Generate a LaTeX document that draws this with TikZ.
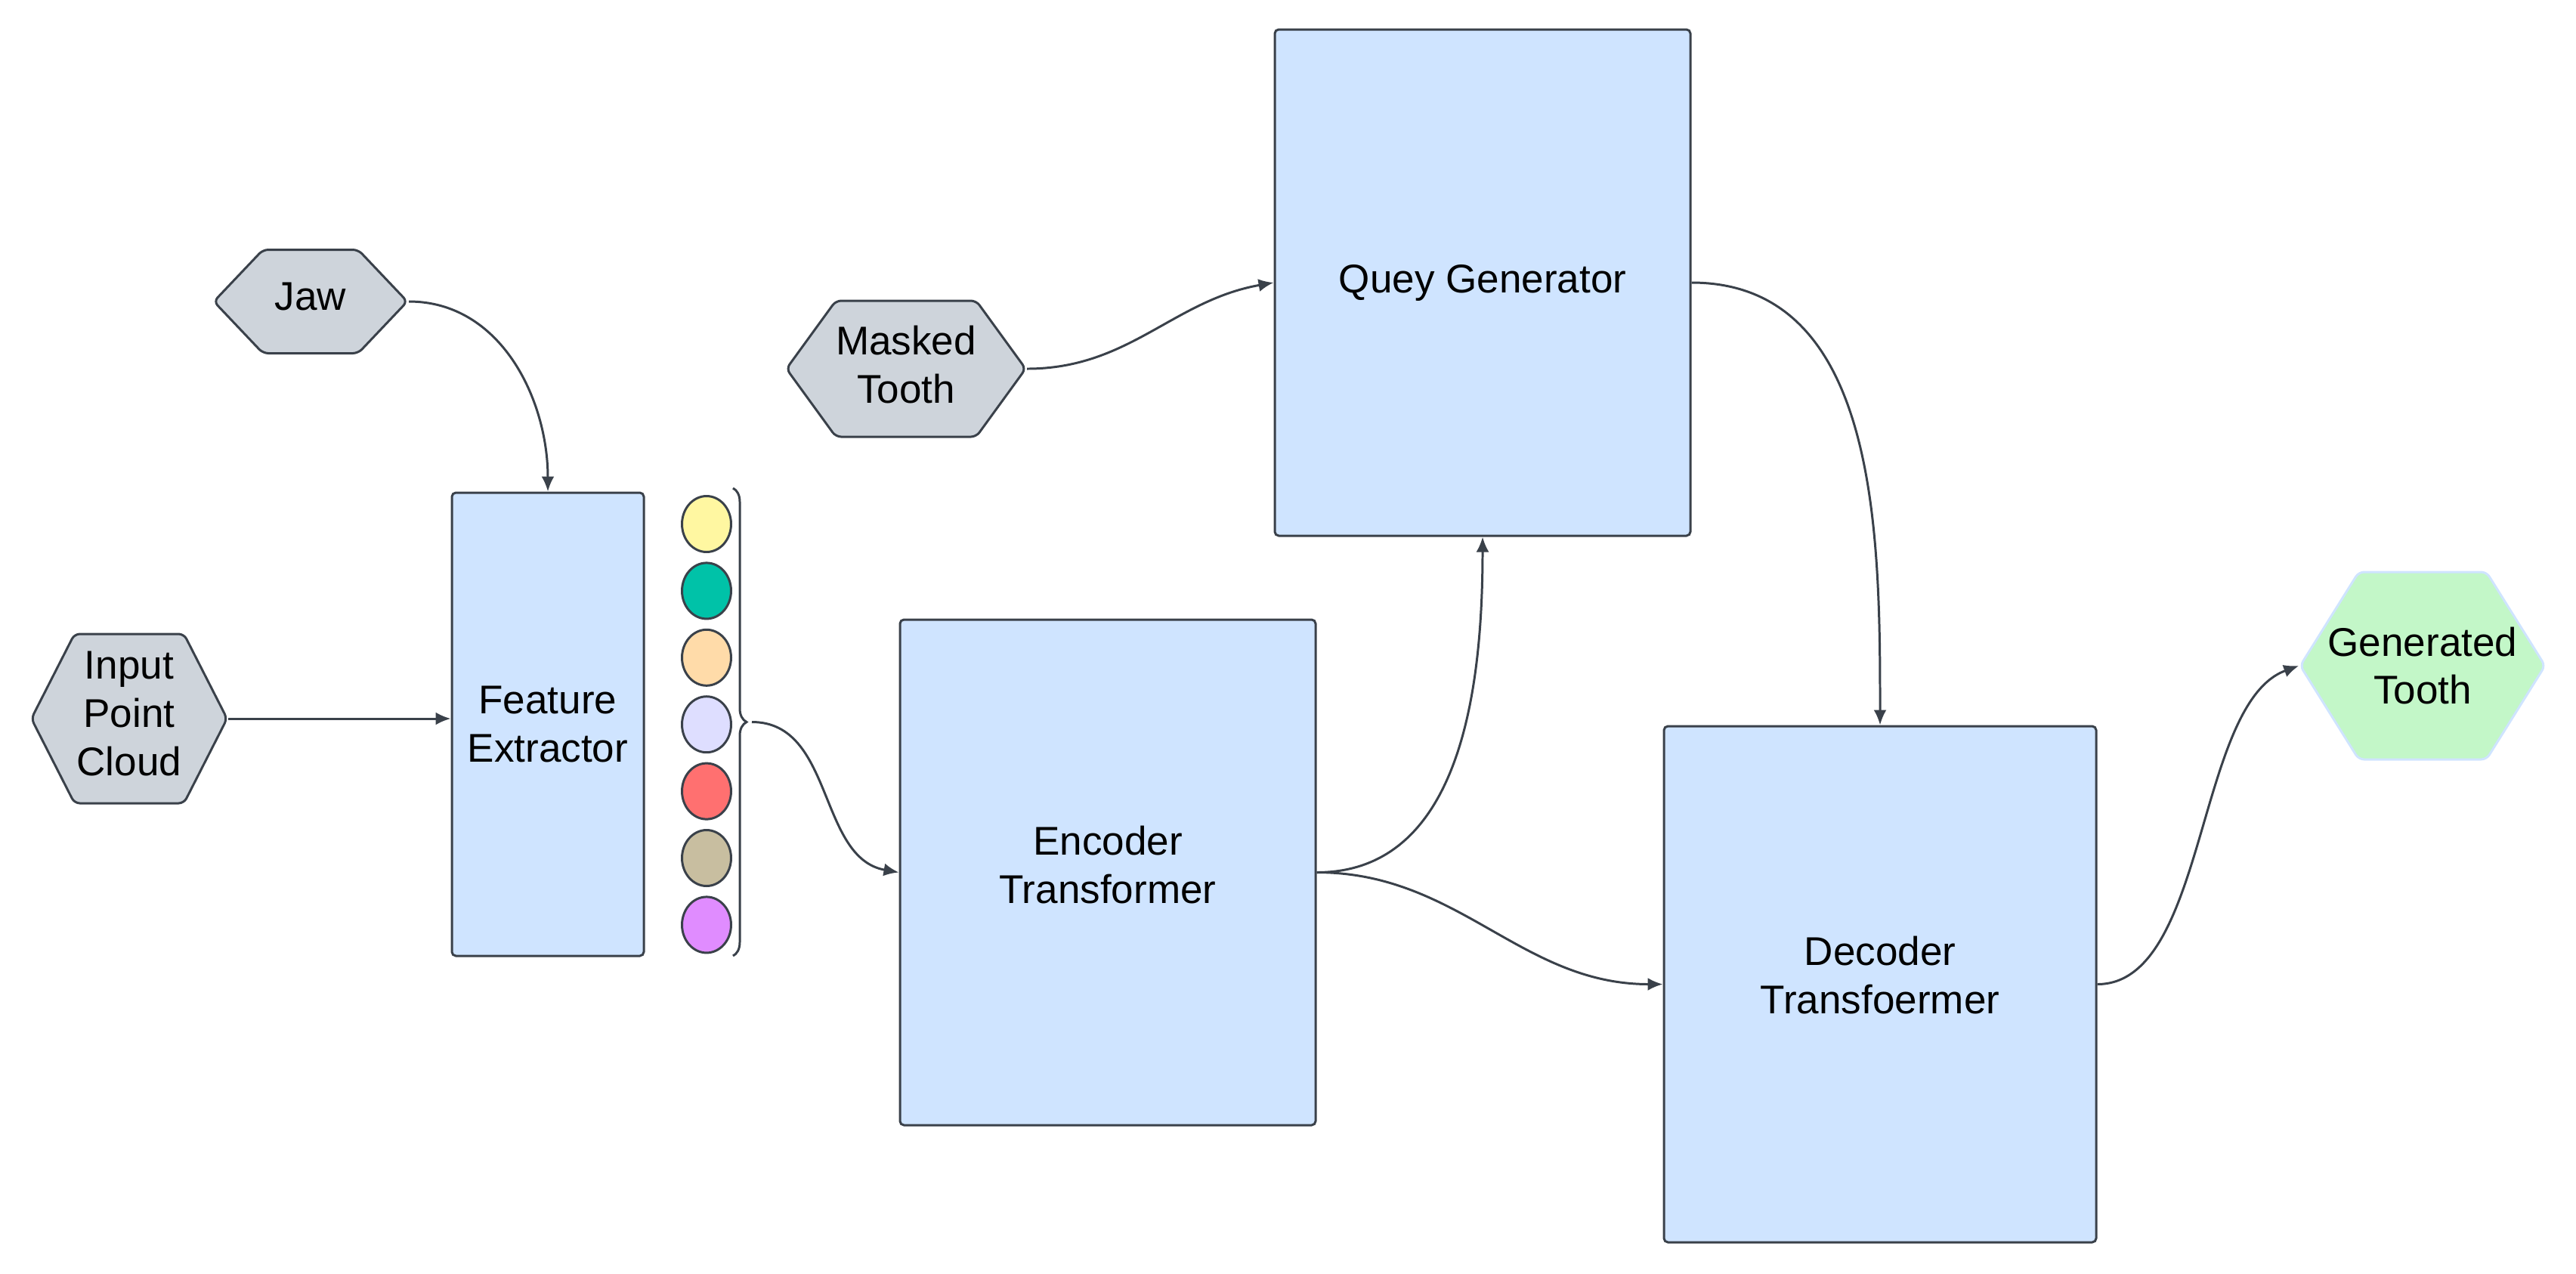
\documentclass[tikz,border=0pt]{standalone}
\usepackage{fontspec}
\setmainfont{Liberation Sans}
\usetikzlibrary{arrows.meta,positioning,shapes.geometric,shapes.symbols,decorations.pathreplacing}
\definecolor{edge}{RGB}{58,65,74}
\definecolor{boxfill}{RGB}{207,228,255}
\definecolor{hexfill}{RGB}{206,212,219}
\definecolor{genfill}{RGB}{195,247,200}
\definecolor{cyellow}{RGB}{255,247,161}
\definecolor{cteal}{RGB}{0,194,168}
\definecolor{cpeach}{RGB}{255,219,169}
\definecolor{clavender}{RGB}{222,222,255}
\definecolor{cred}{RGB}{255,112,112}
\definecolor{ctan}{RGB}{200,190,160}
\definecolor{cpurple}{RGB}{224,140,255}
\tikzset{
  flow/.style={-{Latex[length=2mm,width=1.7mm]},line width=0.85pt,draw=edge},
  block/.style={rounded corners=1.5pt,draw=edge,line width=0.85pt,fill=boxfill,
                align=center,inner sep=0pt,font=\fontsize{15.1}{18.2}\selectfont},
  hexa/.style={signal,signal to=west and east,signal pointer angle=#1,
               rounded corners=2pt,draw=edge,line width=0.85pt,fill=hexfill,
               align=center,inner sep=0pt,font=\fontsize{15.1}{18.2}\selectfont},
  genhex/.style={hexa=#1,draw=boxfill,fill=genfill},
  dot/.style={ellipse,draw=edge,line width=0.85pt,minimum width=0.65cm,
              minimum height=0.74cm,inner sep=0pt}
}
\begin{document}
\begin{tikzpicture}
  \useasboundingbox (0,0) rectangle (34.09,-16.85);

  % inputs
  \node[hexa=93,minimum width=2.56cm,minimum height=1.37cm,text depth=0.13cm] (jaw) at (4.11,-3.99) {Jaw};
  \node[hexa=126,minimum width=2.59cm,minimum height=2.24cm,text depth=0.13cm] (ipc) at (1.71,-9.51) {Input\\Point\\Cloud};
  \node[hexa=108,minimum width=3.06cm,minimum height=1.80cm,text depth=0.11cm] (mask) at (11.99,-4.88) {Masked\\Tooth};

  % main blocks
  \node[block,minimum width=2.54cm,minimum height=6.13cm] (fe) at (7.25,-9.585) {Feature\\Extractor};
  \node[block,minimum width=5.50cm,minimum height=6.69cm,text depth=0.2cm] (enc) at (14.66,-11.545) {Encoder\\Transformer};
  \node[block,minimum width=5.50cm,minimum height=6.70cm] (qg) at (19.62,-3.74) {Quey Generator};
  \node[block,minimum width=5.72cm,minimum height=6.83cm,text depth=0.24cm] (dec) at (24.88,-13.025) {Decoder\\Transfoermer};

  \node[genhex=116,minimum width=3.24cm,minimum height=2.48cm] (gen) at (32.06,-8.81) {\makebox[0pt]{Generated}\\Tooth};

  % feature tokens
  \foreach \c [count=\i] in {cyellow,cteal,cpeach,clavender,cred,ctan,cpurple}
    \node[dot,fill=\c] (tok\i) at (9.35,{-9.587+(4-\i)*0.884}) {};
  \draw[edge,line width=0.85pt,decorate,decoration={brace,amplitude=0.18cm}]
    (9.70,-6.46) -- (9.70,-12.65);
  \coordinate (bt) at (9.95,-9.555);

  \draw[flow] (jaw.east) to[out=0,in=90] (fe.north);
  \draw[flow] (ipc.east) -- (ipc.east -| fe.west);
  \draw[flow] (bt) to[out=0,in=170] (enc.west);
  \draw[flow] (mask.east) to[out=0,in=190] (qg.west);
  \draw[flow] (enc.east) to[out=0,in=-90] (qg.south);
  \draw[flow] (enc.east) to[out=0,in=180] (dec.west);
  \draw[flow] (qg.east) to[out=0,in=90] (dec.north);
  \draw[flow] (dec.east) to[out=0,in=200,looseness=0.75] (gen.west);
\end{tikzpicture}
\end{document}
